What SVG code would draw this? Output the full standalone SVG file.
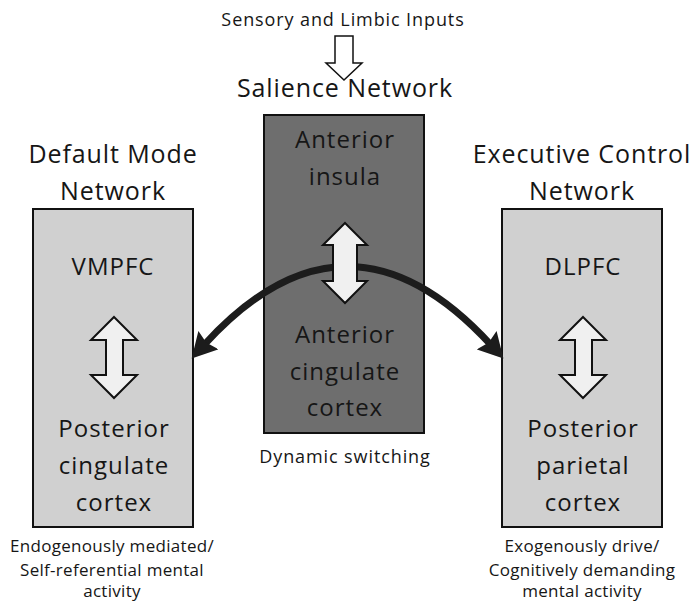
<svg xmlns="http://www.w3.org/2000/svg" width="692" height="603" viewBox="0 0 692 603">
<style>
  text { font-family: "Open Sans", "Noto Sans", "DejaVu Sans", sans-serif; fill: #161616; text-anchor: middle; }
  .t { font-size: 25px; letter-spacing: 0.9px; }
  .b { font-size: 24px; letter-spacing: 1px; }
  .s { font-size: 18px; letter-spacing: 0.9px; }
  .d { font-size: 17px; letter-spacing: 0.3px; }
  .side { fill: #d0d0d0; stroke: #111; stroke-width: 2; }
  .mid { fill: #6e6e6e; stroke: #111; stroke-width: 2; }
  .dbl { fill: #f0f0f0; stroke: #111; stroke-width: 2; stroke-linejoin: miter; }
  .curve { fill: none; stroke: #1c1c1c; stroke-width: 7; }
</style>
<defs>
  <marker id="head" markerUnits="userSpaceOnUse" markerWidth="27" markerHeight="27" viewBox="0 0 25 25" refX="6" refY="12.5" orient="auto-start-reverse">
    <path d="M0,0 L23,12.5 L0,25 L3,12.5 z" fill="#1c1c1c"/>
  </marker>
</defs>
<rect width="692" height="603" fill="#ffffff"/>

<g id="inputs">
  <text class="s" x="343" y="26">Sensory and Limbic Inputs</text>
</g>

<g id="dmn">
  <text class="t" x="113" y="163">Default Mode</text>
  <text class="t" x="113" y="200">Network</text>
  <rect class="side" x="33" y="209" width="160" height="318"/>
  <text class="b" x="113" y="275">VMPFC</text>
  <text class="b" x="114" y="437">Posterior</text>
  <text class="b" x="114" y="474">cingulate</text>
  <text class="b" x="114" y="511">cortex</text>
  <text class="d" x="112" y="552">Endogenously mediated/</text>
  <text class="d" x="112" y="576">Self-referential mental</text>
  <text class="d" x="112" y="597">activity</text>
</g>

<g id="salience">
  <text class="t" x="345" y="97">Salience Network</text>
  <rect class="mid" x="264" y="115" width="160" height="318"/>
  <text class="b" x="345" y="148">Anterior</text>
  <text class="b" x="345" y="185">insula</text>
  <text class="b" x="345" y="343">Anterior</text>
  <text class="b" x="345" y="380">cingulate</text>
  <text class="b" x="345" y="416">cortex</text>
  <text class="s" x="345" y="463">Dynamic switching</text>
</g>

<g id="ecn">
  <text class="t" x="582" y="163">Executive Control</text>
  <text class="t" x="582" y="200">Network</text>
  <rect class="side" x="502" y="209" width="160" height="318"/>
  <text class="b" x="583" y="275">DLPFC</text>
  <text class="b" x="583" y="437">Posterior</text>
  <text class="b" x="583" y="474">parietal</text>
  <text class="b" x="583" y="511">cortex</text>
  <text class="d" x="582" y="552">Exogenously drive/</text>
  <text class="d" x="582" y="576">Cognitively demanding</text>
  <text class="d" x="582" y="597">mental activity</text>
</g>

<g id="connectors">
  <path d="M335,36 L353,36 L353,63 L362,63 L344,80 L326,63 L335,63 Z" fill="#ffffff" stroke="#111" stroke-width="1.5" stroke-linejoin="miter"/>
  <path class="curve" d="M204,345 Q347,188 491,345" marker-start="url(#head)" marker-end="url(#head)"/>
  <path class="dbl" d="M345,223 L367,245 L357,245 L357,281 L367,281 L345,303 L323,281 L333,281 L333,245 L323,245 Z"/>
  <path class="dbl" d="M114,317 L137,340 L123,340 L123,375 L137,375 L114,398 L91,375 L106,375 L106,340 L91,340 Z"/>
  <path class="dbl" d="M583,317 L606,340 L592,340 L592,375 L606,375 L583,398 L560,375 L575,375 L575,340 L560,340 Z"/>
</g>
</svg>
